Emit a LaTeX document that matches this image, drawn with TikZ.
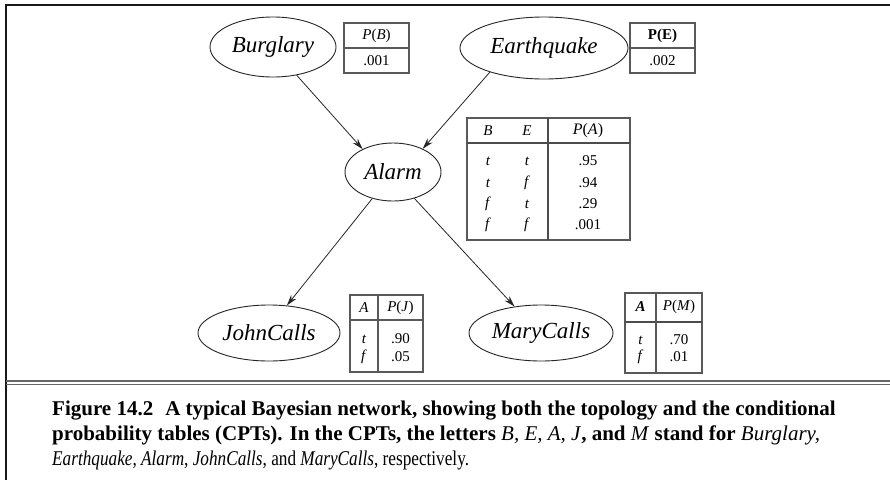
\documentclass[tikz,border=0pt]{standalone}
\usepackage{fontspec}
\setmainfont{Liberation Serif}
\usetikzlibrary{shapes.geometric,arrows.meta}
\tikzset{
  var/.style={ellipse,draw=black!85,line width=0.9pt,inner sep=0pt,font=\fontsize{23}{27}\selectfont\itshape},
  tbl/.style={draw=black!65,line width=1.1pt},
  thick rule/.style={draw=black!70,line width=2pt},
  cell/.style={inner sep=0pt,font=\fontsize{15}{18}\selectfont},
  link/.style={draw=black!85,line width=0.8pt,-{Stealth[length=11pt,width=6.5pt]}},
  capline/.style={anchor=base west,inner sep=0pt,font=\fontsize{21}{25}\selectfont},
  frame/.style={draw=black!90,line width=1.8pt}
}
\begin{document}
\begin{tikzpicture}[x=1pt,y=-1pt]
\useasboundingbox[fill=white] (0,0) rectangle (890,480);
% frame
\draw[frame] (890,5) -- (6,5) -- (6,480);
\draw[draw=black!60,line width=1.1pt] (6,381) -- (890,381);
\draw[draw=black!60,line width=1.1pt] (6,384.5) -- (890,384.5);

% variables
\node[var,minimum width=126pt,minimum height=60pt] (B) at (273,47) {Burglary};
\node[var,minimum width=168pt,minimum height=62pt] (E) at (544,48) {Earthquake};
\node[var,minimum width=96pt,minimum height=58pt] (A) at (393,172) {Alarm};
\node[var,minimum width=142pt,minimum height=56pt] (J) at (269,333) {JohnCalls};
\node[var,minimum width=144pt,minimum height=56pt] (M) at (541,333) {MaryCalls};

% links
\draw[link] (B.310) -- (A.143);
\draw[link] (E.204) -- (A.38);
\draw[link] (A.232) -- (J.57);
\draw[link] (A.309) -- (M.135);

% P(B) table
\draw[tbl] (344,23) rectangle (409,73);
\draw[tbl] (344,48) -- (409,48);
\node[cell] (pb) at (376.5,36) {\textit{P}(\textit{B})};
\node[cell] (pbv) at (376.5,61) {.001};

% P(E) table
\draw[tbl] (630,23) rectangle (695,73);
\draw[tbl] (630,48) -- (695,48);
\node[cell,font=\fontsize{15}{18}\selectfont\bfseries] (pe) at (662.5,36) {P(E)};
\node[cell] (pev) at (662.5,61) {.002};

% P(A) table
\draw[tbl] (467,118) rectangle (630,240);
\draw[thick rule] (467,143) -- (630,143);
\draw[thick rule] (548,118) -- (548,240);
\node[cell] (ah1) at (488,131) {\textit{B}};
\node[cell] (ah2) at (527,131) {\textit{E}};
\node[cell,font=\fontsize{16}{19}\selectfont] (ah3) at (588,131) {\textit{P}(\textit{A})};
\node[cell] (a11) at (488,161) {\textit{t}};
\node[cell] (a12) at (527,161) {\textit{t}};
\node[cell] (a13) at (588,161) {.95};
\node[cell] (a21) at (488,183) {\textit{t}};
\node[cell] (a22) at (527,183) {\textit{f}};
\node[cell] (a23) at (588,183) {.94};
\node[cell] (a31) at (488,204) {\textit{f}};
\node[cell] (a32) at (527,204) {\textit{t}};
\node[cell] (a33) at (588,204) {.29};
\node[cell] (a41) at (488,225) {\textit{f}};
\node[cell] (a42) at (527,225) {\textit{f}};
\node[cell] (a43) at (588,225) {.001};

% P(J) table
\draw[tbl] (350,295) rectangle (423,372);
\draw[tbl] (350,320) -- (423,320);
\draw[tbl] (378,295) -- (378,372);
\node[cell] (jh1) at (364,308) {\textit{A}};
\node[cell] (jh2) at (400.5,308) {\textit{P}(\textit{J})};
\node[cell] (j11) at (364,339) {\textit{t}};
\node[cell] (j12) at (400.5,339) {.90};
\node[cell] (j21) at (364,357) {\textit{f}};
\node[cell] (j22) at (400.5,357) {.05};

% P(M) table
\draw[tbl] (625,293) rectangle (702,373);
\draw[thick rule] (625,322) -- (702,322);
\draw[tbl] (656,293) -- (656,373);
\node[cell,font=\fontsize{15}{18}\selectfont\bfseries\itshape] (mh1) at (640.5,307) {A};
\node[cell] (mh2) at (679,307) {\textit{P}(\textit{M})};
\node[cell] (m11) at (640.5,340) {\textit{t}};
\node[cell] (m12) at (679,340) {.70};
\node[cell] (m21) at (640.5,357) {\textit{f}};
\node[cell] (m22) at (679,357) {.01};

% caption
\node[capline] (c1) at (52,415) {\textbf{Figure 14.2}\hspace{12pt}\textbf{A typical Bayesian network, showing both the topology and the conditional}};
\node[capline] (c2) at (52,440) {\textbf{probability tables (CPTs). In the CPTs, the letters} \textit{B, E, A, J}\textbf{, and} \textit{M} \textbf{stand for} \textit{Burglary,}};
\node[capline] (c3) at (52,465) {\scalebox{0.82}[1]{\textit{Earthquake, Alarm, JohnCalls}, and \textit{MaryCalls}, respectively.}};
\end{tikzpicture}
\end{document}
